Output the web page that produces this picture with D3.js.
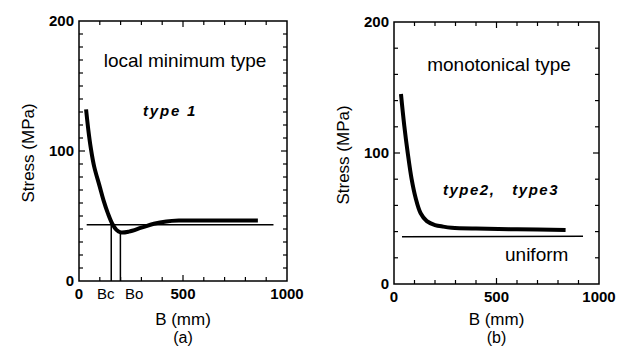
<!DOCTYPE html>
<html><head><meta charset="utf-8">
<script src="https://cdn.jsdelivr.net/npm/d3@7"></script>
<style>body{margin:0;background:#fff}svg{display:block}</style>
</head><body>
<svg id="c" width="633" height="356"></svg>
<script>
// Panel (a): local minimum type
const curveA_B = [34, 45, 57, 73, 99, 118, 139, 160, 180, 200, 240, 300, 360, 420, 480, 600, 860];
const curveA_S = [132, 116, 102, 88, 73, 62, 52, 44, 39.3, 37.4, 38, 41, 44, 45.8, 46.5, 46.6, 46.6];
const uniformA_B = [37, 935];
const uniformA_S = [43.3, 43.3];
const markersA = [{label: "Bc", B: 155, S: 43.3}, {label: "Bo", B: 199, S: 37.5}];
// Panel (b): monotonical type
const curveB_B = [34, 50, 67, 86, 105, 130, 160, 200, 240, 281, 400, 600, 837];
const curveB_S = [145, 121, 100, 80, 66, 54, 48, 45, 43.8, 43.0, 42.3, 41.8, 41.2];
const uniformB_B = [39, 922];
const uniformB_S = [36.0, 36.4];
const xTicks = [0, 500, 1000];
const yTicks = [0, 100, 200];

const svg = d3.select("#c");
const tickFont = "'Liberation Sans',Arial,sans-serif";
const textFont = "'Liberation Sans',Arial,sans-serif";

function panel(opt) {
  const x = d3.scaleLinear().domain([0, 1000]).range([opt.x0, opt.x1]);
  const y = d3.scaleLinear().domain([0, 200]).range([opt.y0, opt.y1]);
  const g = svg.append("g");
  g.append("rect").attr("x", opt.x0).attr("y", opt.y1)
    .attr("width", opt.x1 - opt.x0).attr("height", opt.y0 - opt.y1)
    .attr("fill", "none").attr("stroke", "#000").attr("stroke-width", 1.5);
  d3.range(100, 1000, 100).forEach(v => {
    const len = v === 500 ? 6 : 4;
    g.append("line").attr("x1", x(v)).attr("x2", x(v)).attr("y1", opt.y0).attr("y2", opt.y0 - len).attr("stroke", "#000").attr("stroke-width", 1.2);
    g.append("line").attr("x1", x(v)).attr("x2", x(v)).attr("y1", opt.y1).attr("y2", opt.y1 + len).attr("stroke", "#000").attr("stroke-width", 1.2);
  });
  d3.range(opt.yStep, 200, opt.yStep).forEach(v => {
    const len = v === 100 ? 6 : 4;
    g.append("line").attr("x1", opt.x0).attr("x2", opt.x0 + len).attr("y1", y(v)).attr("y2", y(v)).attr("stroke", "#000").attr("stroke-width", 1.2);
    g.append("line").attr("x1", opt.x1).attr("x2", opt.x1 - len).attr("y1", y(v)).attr("y2", y(v)).attr("stroke", "#000").attr("stroke-width", 1.2);
  });
  xTicks.forEach(v => {
    g.append("text").attr("x", x(v)).attr("y", opt.y0 + 18).attr("text-anchor", "middle")
      .attr("font-family", tickFont).attr("font-weight", "bold").attr("font-size", 15).text(v);
  });
  yTicks.forEach(v => {
    g.append("text").attr("x", opt.x0 - 5).attr("y", y(v) + 5).attr("text-anchor", "end")
      .attr("font-family", tickFont).attr("font-weight", "bold").attr("font-size", 15).text(v);
  });
  const cx = (opt.x0 + opt.x1) / 2;
  g.append("text").attr("x", cx).attr("y", 325).attr("text-anchor", "middle")
    .attr("font-family", textFont).attr("font-size", 17).text("B (mm)");
  g.append("text").attr("x", cx).attr("y", 343).attr("text-anchor", "middle")
    .attr("font-family", textFont).attr("font-size", 16).text(opt.sub);
  g.append("text").attr("transform", `translate(${opt.x0 - 45},${(opt.y0 + opt.y1) / 2 + 2}) rotate(-90)`)
    .attr("text-anchor", "middle").attr("font-family", textFont).attr("font-size", 17).text("Stress (MPa)");
  return {g, x, y};
}

const line = (x, y) => d3.line().x(d => x(d[0])).y(d => y(d[1])).curve(d3.curveCatmullRom.alpha(0.5));

// Panel a
{
  const {g, x, y} = panel({x0: 79, x1: 287, y0: 281, y1: 21, yStep: 10, sub: "(a)"});
  g.append("path").datum(uniformA_B.map((b, i) => [b, uniformA_S[i]]))
    .attr("d", line(x, y)).attr("fill", "none").attr("stroke", "#000").attr("stroke-width", 1.5);
  markersA.forEach(m => {
    g.append("line").attr("x1", x(m.B)).attr("x2", x(m.B)).attr("y1", y(m.S)).attr("y2", y(0))
      .attr("stroke", "#000").attr("stroke-width", 1.5);
  });
  g.append("path").datum(curveA_B.map((b, i) => [b, curveA_S[i]]))
    .attr("d", line(x, y)).attr("fill", "none").attr("stroke", "#000").attr("stroke-width", 4);
  g.append("text").attr("x", 97).attr("y", 299).attr("text-anchor", "start")
    .attr("font-family", textFont).attr("font-size", 15).text("Bc");
  g.append("text").attr("x", 125).attr("y", 299).attr("text-anchor", "start")
    .attr("font-family", textFont).attr("font-size", 15).text("Bo");
  g.append("text").attr("x", 185).attr("y", 67).attr("text-anchor", "middle")
    .attr("font-family", textFont).attr("font-size", 19).text("local minimum type");
  g.append("text").attr("x", 143).attr("y", 116).attr("text-anchor", "start")
    .attr("font-family", textFont).attr("font-size", 15).attr("font-weight", "bold").attr("font-style", "italic")
    .attr("letter-spacing", 1.8).text("type 1");
}
// Panel b
{
  const {g, x, y} = panel({x0: 394, x1: 599, y0: 284, y1: 22, yStep: 20, sub: "(b)"});
  g.append("path").datum(uniformB_B.map((b, i) => [b, uniformB_S[i]]))
    .attr("d", line(x, y)).attr("fill", "none").attr("stroke", "#000").attr("stroke-width", 1.5);
  g.append("path").datum(curveB_B.map((b, i) => [b, curveB_S[i]]))
    .attr("d", line(x, y)).attr("fill", "none").attr("stroke", "#000").attr("stroke-width", 4);
  g.append("text").attr("x", 499).attr("y", 71).attr("text-anchor", "middle")
    .attr("font-family", textFont).attr("font-size", 19).text("monotonical type");
  g.append("text").attr("x", 443).attr("y", 195).attr("text-anchor", "start")
    .attr("font-family", textFont).attr("font-size", 15).attr("font-weight", "bold").attr("font-style", "italic")
    .attr("letter-spacing", 1.5).attr("xml:space", "preserve").text("type2,   type3");
  g.append("text").attr("x", 505).attr("y", 261).attr("text-anchor", "start")
    .attr("font-family", textFont).attr("font-size", 19).text("uniform");
}
</script>
</body></html>
